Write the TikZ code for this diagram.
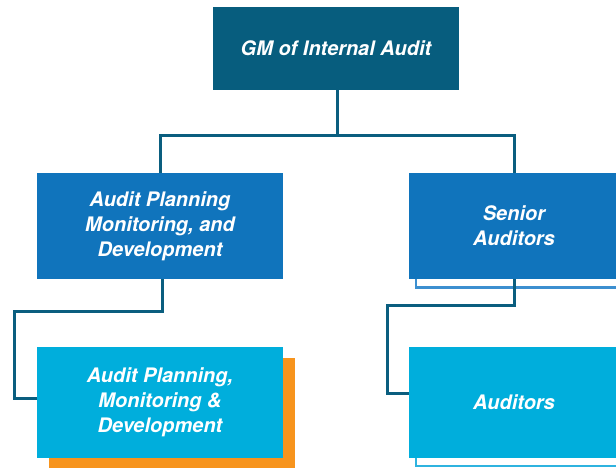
\documentclass[tikz,border=0pt]{standalone}
\usepackage{fontspec}
\setmainfont{TeX Gyre Heros}
\definecolor{topblue}{HTML}{075D7E}
\definecolor{midblue}{HTML}{1074BC}
\definecolor{lightblue}{HTML}{00AEDC}
\definecolor{orangeC}{HTML}{F7941D}
\definecolor{connC}{HTML}{0A5E7F}
\definecolor{frameA}{HTML}{3C8FD0}
\definecolor{frameB}{HTML}{2FB3DF}
\tikzset{
  box/.style={rectangle, inner sep=0pt, text=white, align=center,
    font=\fontsize{20}{25}\selectfont\bfseries\itshape},
  conn/.style={draw=connC, line width=3pt},
}
\begin{document}
\begin{tikzpicture}[x=1pt,y=-1pt]
\useasboundingbox (0,0) rectangle (616,468);
% shadows / frames
\fill[orangeC] (49,358) rectangle (295,475);
\draw[frameA, line width=2.5pt, fill=white] (416,200) rectangle (640,287.5);
\draw[frameB, line width=2.5pt, fill=white] (416,380) rectangle (640,466);
% boxes
\node[box, fill=topblue, minimum width=246pt, minimum height=83pt] (gm) at (336,48.5) {GM of Internal Audit};
\node[box, fill=midblue, minimum width=246pt, minimum height=106pt] (apm) at (160,226) {Audit Planning\\Monitoring, and\\Development};
\node[box, fill=midblue, minimum width=210pt, minimum height=106pt] (sa) at (514,226) {Senior\\Auditors};
\node[box, fill=lightblue, minimum width=246pt, minimum height=111pt] (apmd) at (160,402.5) {Audit Planning,\\Monitoring \&\\Development};
\node[box, fill=lightblue, minimum width=210pt, minimum height=111pt] (aud) at (514,402.5) {Auditors};
% connectors
\coordinate (bus) at (337.5,135.5);
\coordinate (lbend) at (14,311);
\coordinate (rbend) at (387.5,305);
\draw[conn] ([xshift=1.5pt]gm.south) -- (bus);
\draw[conn] (apm.north) |- (bus) -| (sa.north);
\draw[conn] ([xshift=2pt]apm.south) |- (lbend) |- ([yshift=4.5pt]apmd.west);
\draw[conn] (sa.south) |- (rbend) |- ([yshift=9.5pt]aud.west);
\end{tikzpicture}
\end{document}
